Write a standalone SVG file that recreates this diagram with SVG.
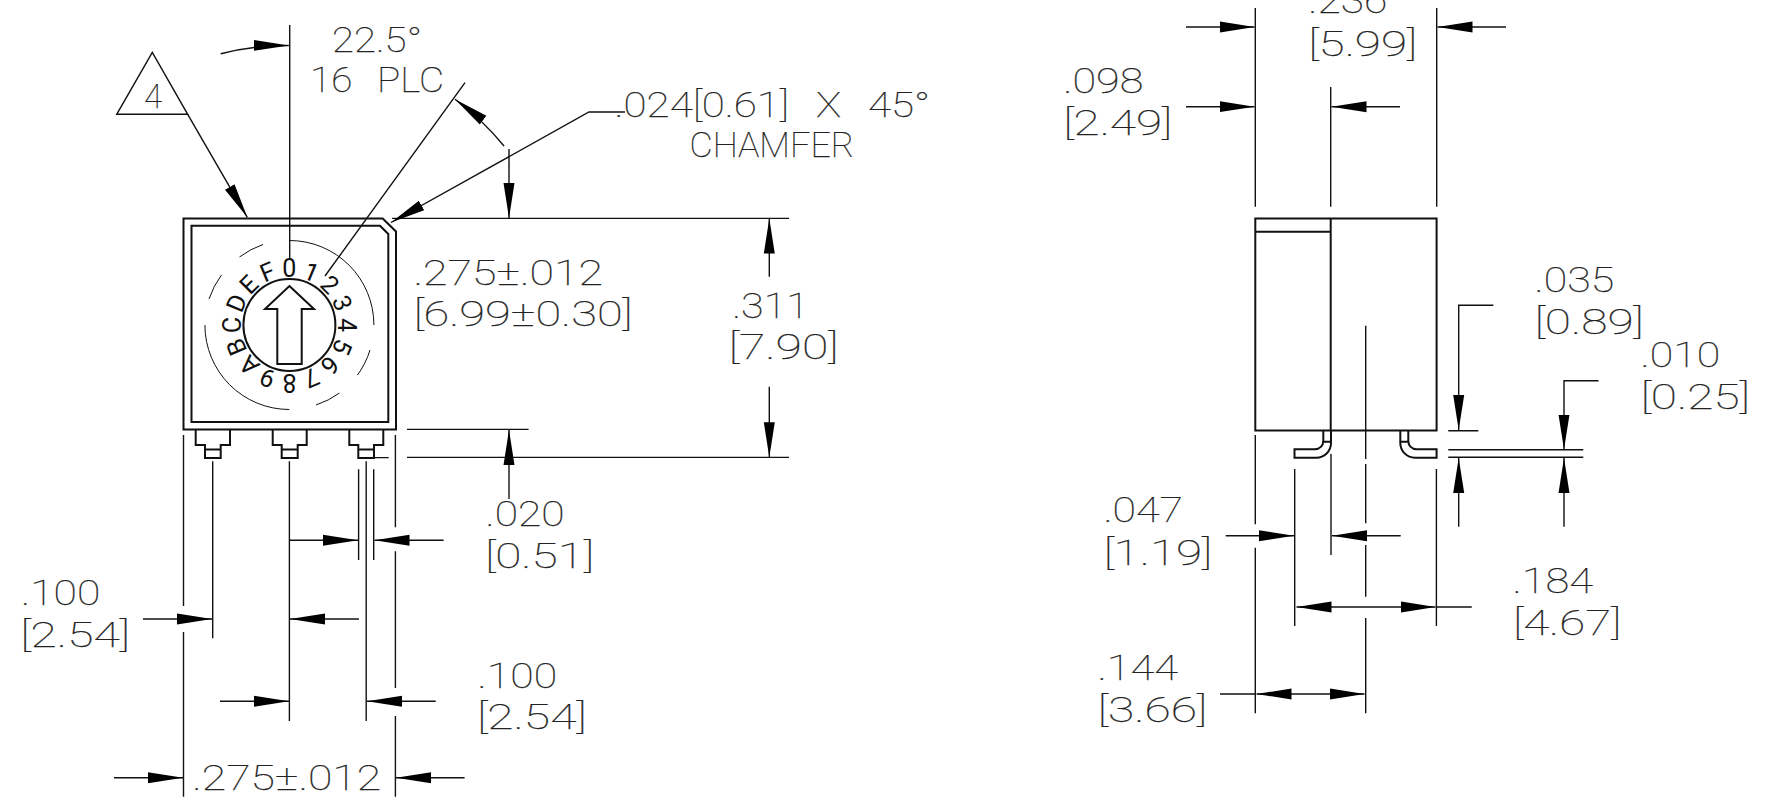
<svg xmlns="http://www.w3.org/2000/svg" width="1781" height="809" viewBox="0 0 1781 809">
<style>
text{font-family:"Roboto","Liberation Sans",sans-serif;font-weight:100;font-size:35px;fill:#222;stroke:#222;stroke-width:.25}
.b{fill:none;stroke:#111;stroke-width:2}
.d{fill:none;stroke:#111;stroke-width:1.4}
.a{fill:none;stroke:#111;stroke-width:1}
.k{font-size:25px;font-weight:400;text-anchor:middle;stroke:none;fill:#111}
.w{word-spacing:14px}
</style>
<defs>
<marker id="h" markerUnits="userSpaceOnUse" markerWidth="36" markerHeight="12" refX="35" refY="6" orient="auto"><path d="M35,6L0,.5V11.5Z" fill="#000"/></marker>
</defs>
<rect width="1781" height="809" fill="#fff"/>
<g id="front-view">
<path class="b" d="M183.5,218.5H382.7L396,231.5V429.5H183.5Z"/>
<path class="b" d="M191.5,225.7H380L388.3,234V422H191.5Z"/>
<circle class="b" cx="289.4" cy="325" r="46"/>
<path class="b" d="M289.4,286L314,309H301.7V364H277.3V309H265Z"/>
<g id="knob-arcs" class="a">
<path d="M289.4,240.5A84.5,84.5 0 0 1 373.9,325"/>
<path d="M370,350A84.5,84.5 0 0 1 357.5,375"/>
<path d="M339.5,393A84.5,84.5 0 0 1 316,405"/>
<path d="M289.4,409.5A84.5,84.5 0 0 1 204.9,325"/>
<path d="M209,299A84.5,84.5 0 0 1 221.5,275"/>
<path d="M239.5,257A84.5,84.5 0 0 1 263,244.5"/>
</g>
<g id="knob-labels">
<text class="k" x="289.4" y="276.5">0</text>
<text class="k" x="289.4" y="276.5" transform="rotate(22.5 289.4 325)">1</text>
<text class="k" x="289.4" y="276.5" transform="rotate(45 289.4 325)">2</text>
<text class="k" x="289.4" y="276.5" transform="rotate(67.5 289.4 325)">3</text>
<text class="k" x="289.4" y="276.5" transform="rotate(90 289.4 325)">4</text>
<text class="k" x="289.4" y="276.5" transform="rotate(112.5 289.4 325)">5</text>
<text class="k" x="289.4" y="276.5" transform="rotate(135 289.4 325)">6</text>
<text class="k" x="289.4" y="276.5" transform="rotate(157.5 289.4 325)">7</text>
<text class="k" x="289.4" y="276.5" transform="rotate(180 289.4 325)">8</text>
<text class="k" x="289.4" y="276.5" transform="rotate(202.5 289.4 325)">9</text>
<text class="k" x="289.4" y="276.5" transform="rotate(225 289.4 325)">A</text>
<text class="k" x="289.4" y="276.5" transform="rotate(247.5 289.4 325)">B</text>
<text class="k" x="289.4" y="276.5" transform="rotate(270 289.4 325)">C</text>
<text class="k" x="289.4" y="276.5" transform="rotate(292.5 289.4 325)">D</text>
<text class="k" x="289.4" y="276.5" transform="rotate(315 289.4 325)">E</text>
<text class="k" x="289.4" y="276.5" transform="rotate(337.5 289.4 325)">F</text>
</g>
<g id="pins" class="b">
<path d="M195.7,429.5V445H205V458H220.7V445H230V429.5M205,449.5H220.7"/>
<path d="M272.7,429.5V445H281.7V458H297.7V445H306.7V429.5M281.7,449.5H297.7"/>
<path d="M349.3,429.5V445H358.3V458H374V445H383.3V429.5M358.3,449.5H374"/>
</g>
</g>
<g id="side-view">
<path class="b" d="M1255.3,218.5H1436.6V430.5H1255.3ZM1330.7,218.5V430.5M1255.3,231.7H1330.7"/>
<path class="b" d="M1331,430.5V443A14.7,14.7 0 0 1 1316,457.7H1294.5V449.3H1315A8.3,8.3 0 0 0 1323.3,441V430.5M1323.3,441.7H1331"/>
<path class="b" d="M1400.3,430.5V443A14.7,14.7 0 0 0 1415,457.7H1436.6V449.3H1416.5A8.3,8.3 0 0 1 1408.3,441V430.5M1400.3,441.7H1408.3"/>
</g>
<g id="connectors">
<path class="d" d="M289.7,25V258"/>
<path class="d" d="M465,82.7L325,276"/>
<path class="d" d="M392,218.4H789M407,429.4H528.6M407,457.4H789M374,457.6H388.7"/>
<path class="d" d="M183.5,435V606M183.5,632V796.7M212.7,461.3V638.3M289.4,461.3V721M358.6,469.3V560M366.2,461.3V721M373.7,469.3V560M395.4,435V527.3M395.4,551.3V688M395.4,716V796.7"/>
<path class="d" d="M116.7,114.3H187.7L152.3,52.3Z"/>
<g class="d">
<path d="M187.7,114.3L247.3,217.3" marker-end="url(#h)"/>
<path d="M220.7,53.7A280,280 0 0 1 288.8,45.5" marker-end="url(#h)"/>
<path d="M504,146A280,280 0 0 0 455,99.3" marker-end="url(#h)"/>
<path d="M509,149V218" marker-end="url(#h)"/>
<path d="M625,112H589L391,222.5" marker-end="url(#h)"/>
<path d="M769.3,276.7V218.5" marker-end="url(#h)"/>
<path d="M769.3,386.7V457.3" marker-end="url(#h)"/>
<path d="M509,499V430" marker-end="url(#h)"/>
<path d="M289.4,540.3H358" marker-end="url(#h)"/>
<path d="M443.6,540.3H374.5" marker-end="url(#h)"/>
<path d="M143,619H212" marker-end="url(#h)"/>
<path d="M359,619H290" marker-end="url(#h)"/>
<path d="M220,701.3H289" marker-end="url(#h)"/>
<path d="M435.7,701.3H367" marker-end="url(#h)"/>
<path d="M114,777.7H183" marker-end="url(#h)"/>
<path d="M464.6,777.7H396" marker-end="url(#h)"/>
<path d="M1186,27H1254.5" marker-end="url(#h)"/>
<path d="M1506,27H1437.5" marker-end="url(#h)"/>
<path d="M1186,106.7H1254.5" marker-end="url(#h)"/>
<path d="M1400,106.7H1331.5" marker-end="url(#h)"/>
<path d="M1493.4,305.3H1458.7V430" marker-end="url(#h)"/>
<path d="M1458.7,526.7V458" marker-end="url(#h)"/>
<path d="M1598.5,380.7H1564V449.5" marker-end="url(#h)"/>
<path d="M1564,526.7V458" marker-end="url(#h)"/>
<path d="M1225.7,535.7H1294" marker-end="url(#h)"/>
<path d="M1400.7,535.7H1332" marker-end="url(#h)"/>
<path d="M1366,607H1296.5" marker-end="url(#h)"/>
<path d="M1366,607H1435.5" marker-end="url(#h)"/>
<path d="M1471.8,607H1436.5"/>
<path d="M1310,694H1256.5" marker-end="url(#h)"/>
<path d="M1310,694H1364.5" marker-end="url(#h)"/>
<path d="M1220,694H1255"/>
</g>
<path class="d" d="M1255.3,8V206.7M1330.7,87V206.7M1436.7,8V206.7"/>
<path class="d" d="M1365.7,325.7V459M1365.7,464V523.3M1365.7,545V596.7M1365.7,618V713.3"/>
<path class="d" d="M1255.3,435V524.3M1255.3,547.7V713.3M1294.7,469V626M1331,454V555M1436.4,469V626"/>
<path class="d" d="M1448.3,430.7H1478.3M1448.3,449.7H1583.3M1448.3,457.3H1583.3"/>
</g>
<g id="labels">
<text x="153" y="108" text-anchor="middle" style="font-size:33px">4</text>
<text x="332" y="51.7" textLength="90" lengthAdjust="spacingAndGlyphs">22.5°</text>
<text class="w" x="310" y="91.7" textLength="134" lengthAdjust="spacingAndGlyphs">16 PLC</text>
<text class="w" x="614.5" y="116.7" textLength="315.7" lengthAdjust="spacingAndGlyphs">.024[0.61] X 45°</text>
<text x="689.5" y="156.7" textLength="164.6" lengthAdjust="spacingAndGlyphs">CHAMFER</text>
<text x="413.4" y="285" textLength="189.6" lengthAdjust="spacingAndGlyphs">.275±.012</text>
<text x="413.4" y="326" textLength="219.3" lengthAdjust="spacingAndGlyphs">[6.99±0.30]</text>
<text x="732.3" y="317.7" textLength="76.4" lengthAdjust="spacingAndGlyphs">.311</text>
<text x="728.6" y="359.3" textLength="110.1" lengthAdjust="spacingAndGlyphs">[7.90]</text>
<text x="485.6" y="526" textLength="79" lengthAdjust="spacingAndGlyphs">.020</text>
<text x="484.9" y="568" textLength="109.4" lengthAdjust="spacingAndGlyphs">[0.51]</text>
<text x="21.1" y="605" textLength="79.2" lengthAdjust="spacingAndGlyphs">.100</text>
<text x="20.3" y="647.3" textLength="109.7" lengthAdjust="spacingAndGlyphs">[2.54]</text>
<text x="477.6" y="687.7" textLength="79.5" lengthAdjust="spacingAndGlyphs">.100</text>
<text x="477" y="729.3" textLength="109.7" lengthAdjust="spacingAndGlyphs">[2.54]</text>
<text x="192.3" y="790" textLength="188.8" lengthAdjust="spacingAndGlyphs">.275±.012</text>
<text x="1308.3" y="13.3" textLength="79" lengthAdjust="spacingAndGlyphs">.236</text>
<text x="1308.3" y="55.7" textLength="109" lengthAdjust="spacingAndGlyphs">[5.99]</text>
<text x="1063.3" y="93.3" textLength="80" lengthAdjust="spacingAndGlyphs">.098</text>
<text x="1063.3" y="135" textLength="109" lengthAdjust="spacingAndGlyphs">[2.49]</text>
<text x="1534.6" y="291.7" textLength="79.7" lengthAdjust="spacingAndGlyphs">.035</text>
<text x="1534.6" y="334" textLength="109.2" lengthAdjust="spacingAndGlyphs">[0.89]</text>
<text x="1640.6" y="366.7" textLength="79.7" lengthAdjust="spacingAndGlyphs">.010</text>
<text x="1640.6" y="409" textLength="109.3" lengthAdjust="spacingAndGlyphs">[0.25]</text>
<text x="1103.4" y="521.7" textLength="79.6" lengthAdjust="spacingAndGlyphs">.047</text>
<text x="1103.4" y="565" textLength="108.9" lengthAdjust="spacingAndGlyphs">[1.19]</text>
<text x="1512.6" y="593" textLength="80.4" lengthAdjust="spacingAndGlyphs">.184</text>
<text x="1513" y="635" textLength="108.3" lengthAdjust="spacingAndGlyphs">[4.67]</text>
<text x="1097.6" y="680" textLength="80.4" lengthAdjust="spacingAndGlyphs">.144</text>
<text x="1097.6" y="722" textLength="109.7" lengthAdjust="spacingAndGlyphs">[3.66]</text>
</g>
</svg>
